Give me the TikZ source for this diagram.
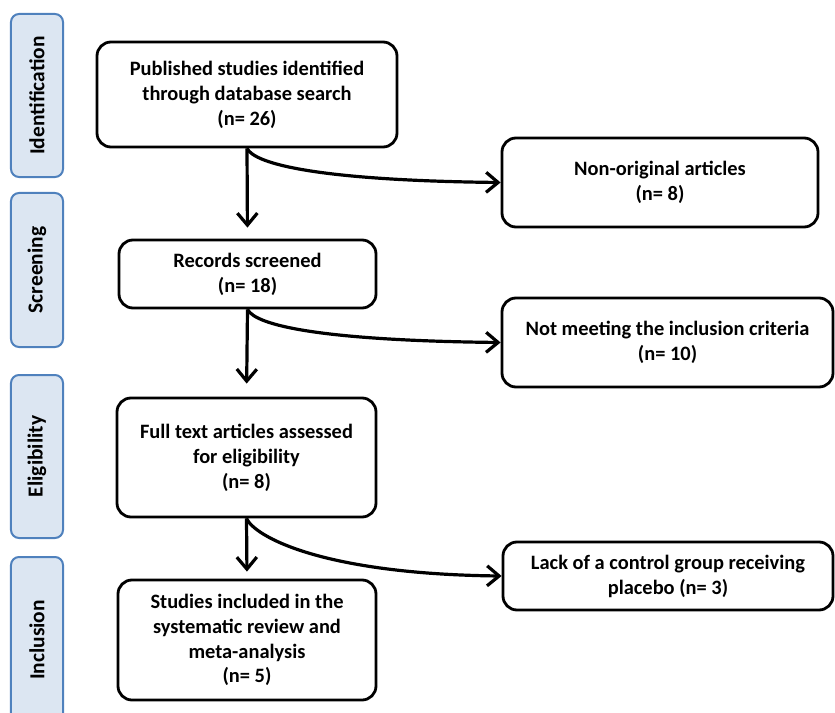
\documentclass[tikz,border=0pt]{standalone}
\usepackage{fontspec}
\setmainfont{Carlito}
\usetikzlibrary{arrows.meta}
\definecolor{stagefill}{HTML}{DCE6F2}
\definecolor{stagedraw}{HTML}{4F81BD}
\begin{document}
\begin{tikzpicture}[x=1bp,y=-1bp,
  box/.style={draw=black, line width=2.8bp, rounded corners=14bp, fill=white,
    align=center, inner sep=0pt, font=\fontsize{20.5}{25}\selectfont\bfseries},
  stage/.style={draw=stagedraw, line width=2bp, rounded corners=8bp, fill=stagefill,
    inner sep=0pt, minimum width=52bp},
  stagelbl/.style={rotate=90, font=\fontsize{21.5}{22}\selectfont\bfseries, text=black},
  arr/.style={line width=3.2bp, -{Straight Barb[length=12bp,width=20bp]}}
]
\useasboundingbox (0,0) rectangle (835,713);
\begin{scope}
\clip (0,0) rectangle (835,713);
% stage boxes
\node[stage, minimum height=163bp] (s1) at (37,95.5) {};
\node[stagelbl] at (s1) {Identification};
\node[stage, minimum height=154bp] (s2) at (37,270) {};
\node[stagelbl] at (s2) {Screening};
\node[stage, minimum height=163bp] (s3) at (37,456.5) {};
\node[stagelbl] at (s3) {Eligibility};
\node[stage, minimum height=166bp] (s4) at (37,640) {};
\node[stagelbl] at (s4.center) {Inclusion};
% main boxes
\node[box, minimum width=300bp, minimum height=105bp] (b1) at (247,94.5)
  {Published studies identified\\through database search\\(n= 26)};
\node[box, minimum width=257bp, minimum height=68bp] (b2) at (247.5,274)
  {Records screened\\(n= 18)};
\node[box, minimum width=259bp, minimum height=119bp] (b3) at (246.5,457.5)
  {Full text articles assessed\\for eligibility\\(n= 8)};
\node[box, minimum width=258bp, minimum height=120bp] (b4) at (247,640)
  {Studies included in the\\systematic review and\\meta-analysis\\(n= 5)};
% right boxes
\node[box, minimum width=316bp, minimum height=89bp] (r1) at (660,182.5)
  {Non-original articles\\(n= 8)};
\node[box, minimum width=331bp, minimum height=89bp] (r2) at (667.5,342.5)
  {Not meeting the inclusion criteria\\(n= 10)};
\node[box, minimum width=330bp, minimum height=68bp] (r3) at (668,576)
  {Lack of a control group receiving\\placebo (n= 3)};
% vertical arrows
\draw[arr, shorten >=11bp] (b1.south) -- (b2.north);
\draw[arr, shorten >=13bp] (b2.south) -- (b3.north);
\draw[arr, shorten >=7bp] (b3.south) -- (b4.north);
% curved arrows
\draw[arr] (b1.south) .. controls +(8,16) and +(-180,-2) .. (r1.west);
\draw[arr] (b2.south) .. controls +(8,16) and +(-180,-2) .. (r2.west);
\draw[arr] (b3.south) .. controls +(8,18) and +(-180,-2) .. (r3.west);
\end{scope}
\end{tikzpicture}
\end{document}
